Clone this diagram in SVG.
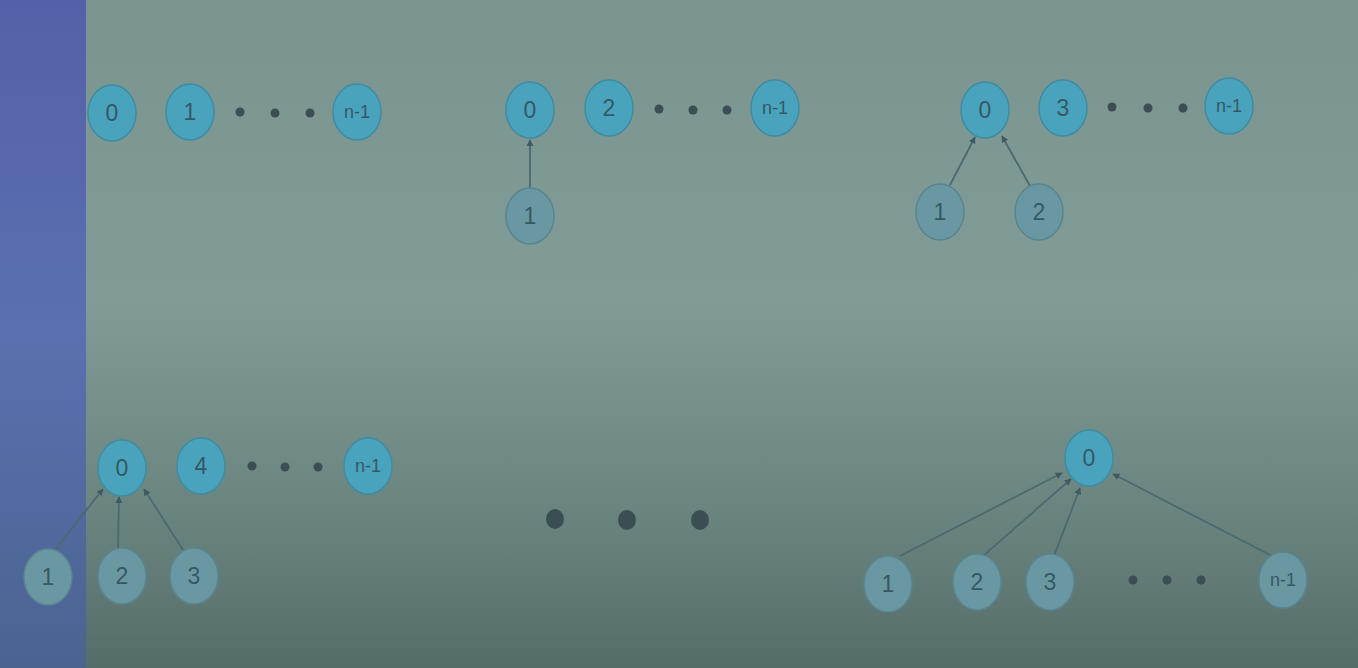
<svg xmlns="http://www.w3.org/2000/svg" width="1358" height="668" viewBox="0 0 1358 668">
<defs>
<linearGradient id="bg" x1="0" y1="0" x2="0" y2="1">
<stop offset="0" stop-color="#7a948f"/>
<stop offset="0.45" stop-color="#819c96"/>
<stop offset="0.75" stop-color="#6b8680"/>
<stop offset="1" stop-color="#556d69"/>
</linearGradient>
<linearGradient id="bar" x1="0" y1="0" x2="0" y2="1">
<stop offset="0" stop-color="#5461a8"/>
<stop offset="0.5" stop-color="#5a70b0"/>
<stop offset="1" stop-color="#4a6490"/>
</linearGradient>
<marker id="ah" viewBox="0 0 10 10" refX="9" refY="5" markerWidth="7" markerHeight="7" orient="auto" markerUnits="userSpaceOnUse">
<path d="M0,0 L10,5 L0,10 Z" fill="#3e5a62"/>
</marker>
<style>
.top ellipse{fill:#4aa3bd;stroke:#3f8ca3;stroke-width:1.5}
.low ellipse{fill:#6a98a2;stroke:#5a8590;stroke-width:1.5}
text{font-family:"Liberation Sans",Arial,sans-serif;font-size:23px;fill:#355866;text-anchor:middle;dominant-baseline:central}
.sm{font-size:18px}
.dot{fill:#3a4e53}
.edge{stroke:#4a6a70;stroke-width:1.8;fill:none;marker-end:url(#ah)}
</style>
</defs>
<rect width="1358" height="668" fill="url(#bg)"/>
<rect x="0" y="0" width="86" height="668" fill="url(#bar)"/>

<g id="connectors">
<line class="edge" x1="530" y1="188" x2="530" y2="140"/>
<line class="edge" x1="950" y1="185" x2="975" y2="137"/>
<line class="edge" x1="1030" y1="186" x2="1002" y2="136"/>
<line class="edge" x1="55" y1="550" x2="103" y2="489"/>
<line class="edge" x1="118" y1="548" x2="119" y2="497"/>
<line class="edge" x1="183" y1="550" x2="144" y2="489"/>
<line class="edge" x1="900" y1="556" x2="1062" y2="473"/>
<line class="edge" x1="983" y1="556" x2="1071" y2="479"/>
<line class="edge" x1="1054" y1="556" x2="1080" y2="488"/>
<line class="edge" x1="1272" y1="556" x2="1113" y2="474"/>
</g>

<!-- Panel 1 -->
<g id="p1n0" class="top"><ellipse cx="112" cy="113" rx="24" ry="28"/><text x="112" y="113">0</text></g>
<g id="p1n1" class="top"><ellipse cx="190" cy="112" rx="24" ry="28"/><text x="190" y="112">1</text></g>
<g id="p1dots"><circle class="dot" cx="240" cy="112" r="4.5"/><circle class="dot" cx="275" cy="113" r="4.5"/><circle class="dot" cx="310" cy="113" r="4.5"/></g>
<g id="p1nn" class="top"><ellipse cx="357" cy="112" rx="24" ry="28"/><text class="sm" x="357" y="112">n-1</text></g>

<!-- Panel 2 -->
<g id="p2n0" class="top"><ellipse cx="530" cy="110" rx="24" ry="28"/><text x="530" y="110">0</text></g>
<g id="p2n2" class="top"><ellipse cx="609" cy="108" rx="24" ry="28"/><text x="609" y="108">2</text></g>
<g id="p2dots"><circle class="dot" cx="659" cy="109" r="4.5"/><circle class="dot" cx="693" cy="110" r="4.5"/><circle class="dot" cx="727" cy="110" r="4.5"/></g>
<g id="p2nn" class="top"><ellipse cx="775" cy="108" rx="24" ry="28"/><text class="sm" x="775" y="108">n-1</text></g>
<g id="p2n1" class="low"><ellipse cx="530" cy="216" rx="24" ry="28"/><text x="530" y="216">1</text></g>

<!-- Panel 3 -->
<g id="p3n0" class="top"><ellipse cx="985" cy="110" rx="24" ry="28"/><text x="985" y="110">0</text></g>
<g id="p3n3" class="top"><ellipse cx="1063" cy="108" rx="24" ry="28"/><text x="1063" y="108">3</text></g>
<g id="p3dots"><circle class="dot" cx="1112" cy="107" r="4.5"/><circle class="dot" cx="1148" cy="108" r="4.5"/><circle class="dot" cx="1183" cy="108" r="4.5"/></g>
<g id="p3nn" class="top"><ellipse cx="1229" cy="106" rx="24" ry="28"/><text class="sm" x="1229" y="106">n-1</text></g>
<g id="p3n1" class="low"><ellipse cx="940" cy="212" rx="24" ry="28"/><text x="940" y="212">1</text></g>
<g id="p3n2" class="low"><ellipse cx="1039" cy="212" rx="24" ry="28"/><text x="1039" y="212">2</text></g>

<!-- Panel 4 -->
<g id="p4n0" class="top"><ellipse cx="122" cy="468" rx="24" ry="28"/><text x="122" y="468">0</text></g>
<g id="p4n4" class="top"><ellipse cx="201" cy="466" rx="24" ry="28"/><text x="201" y="466">4</text></g>
<g id="p4dots"><circle class="dot" cx="252" cy="466" r="4.5"/><circle class="dot" cx="285" cy="467" r="4.5"/><circle class="dot" cx="318" cy="467" r="4.5"/></g>
<g id="p4nn" class="top"><ellipse cx="368" cy="466" rx="24" ry="28"/><text class="sm" x="368" y="466">n-1</text></g>
<g id="p4n1" class="low"><ellipse cx="48" cy="577" rx="24" ry="28"/><text x="48" y="577">1</text></g>
<g id="p4n2" class="low"><ellipse cx="122" cy="576" rx="24" ry="28"/><text x="122" y="576">2</text></g>
<g id="p4n3" class="low"><ellipse cx="194" cy="576" rx="24" ry="28"/><text x="194" y="576">3</text></g>

<!-- Middle ellipsis -->
<g id="middots"><ellipse class="dot" cx="555" cy="519" rx="9" ry="10"/><ellipse class="dot" cx="627" cy="520" rx="9" ry="10"/><ellipse class="dot" cx="700" cy="520" rx="9" ry="10"/></g>

<!-- Panel 6 -->
<g id="p6n0" class="top"><ellipse cx="1089" cy="458" rx="24" ry="28"/><text x="1089" y="458">0</text></g>
<g id="p6n1" class="low"><ellipse cx="888" cy="584" rx="24" ry="28"/><text x="888" y="584">1</text></g>
<g id="p6n2" class="low"><ellipse cx="977" cy="582" rx="24" ry="28"/><text x="977" y="582">2</text></g>
<g id="p6n3" class="low"><ellipse cx="1050" cy="582" rx="24" ry="28"/><text x="1050" y="582">3</text></g>
<g id="p6dots"><circle class="dot" cx="1133" cy="580" r="4.5"/><circle class="dot" cx="1167" cy="580" r="4.5"/><circle class="dot" cx="1201" cy="580" r="4.5"/></g>
<g id="p6nn" class="low"><ellipse cx="1283" cy="580" rx="24" ry="28"/><text class="sm" x="1283" y="580">n-1</text></g>
</svg>
